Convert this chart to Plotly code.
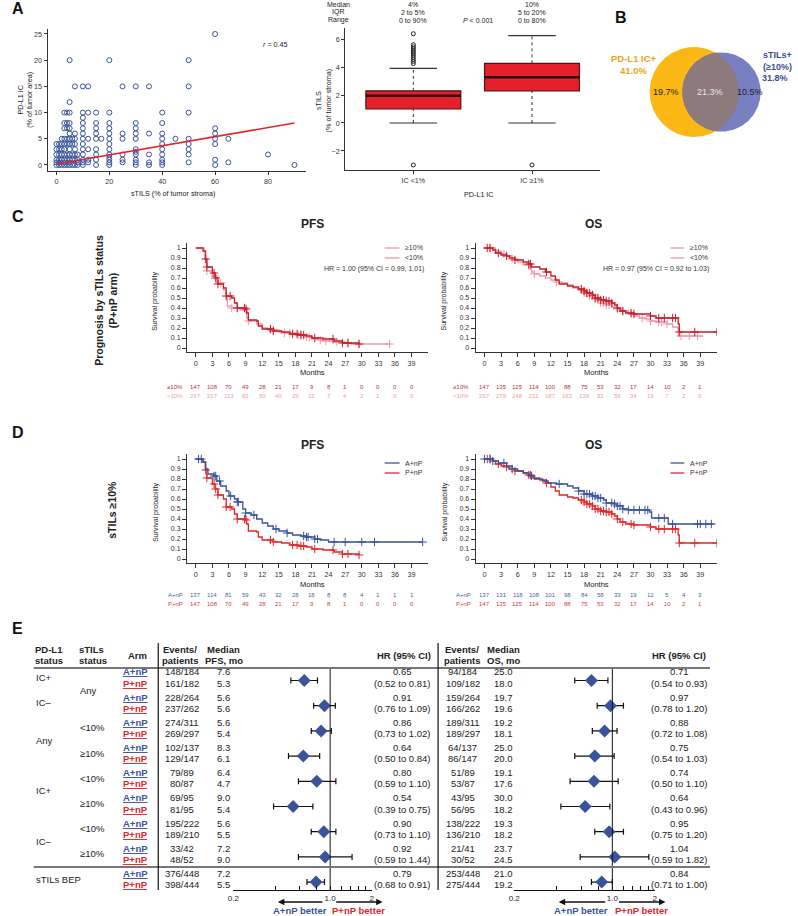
import numpy as np
import plotly.graph_objects as go

W, H = 798, 916
FONT = "Liberation Sans, Arial, Helvetica, sans-serif"

BLUE = "#3a539b"
RED = "#e0262b"
DKRED = "#c81e2b"
PINK = "#ef9aa6"
BOXRED = "#e5202b"
AXC = "#333333"

# ---------------- Panel A (left): sTILs vs PD-L1 IC ----------------
stils_pct = [
    0, 0, 0, 0, 0, 0,
    1, 1, 1, 1, 1, 1,
    2, 2, 2, 2, 2, 2,
    3, 3, 3, 3, 3, 3, 3, 3, 3, 3,
    4, 4, 4, 4, 4, 4, 4, 4,
    5, 5, 5, 5, 5, 5, 5, 5, 5, 5, 5, 5, 5,
    6, 6, 6, 6, 6,
    7, 7, 7, 7, 7, 7, 7, 7,
    8, 8, 8, 8,
    10, 10, 10, 10, 10, 10, 10, 10, 10, 10, 10, 10, 10,
    12, 12, 12, 12, 12, 12,
    15, 15, 15, 15, 15, 15, 15, 15, 15,
    17,
    20, 20, 20, 20, 20, 20, 20, 20, 20, 20, 20, 20, 20,
    25, 25, 25, 25, 25, 25,
    30, 30, 30, 30, 30, 30, 30, 30, 30, 30, 30,
    35, 35, 35, 35, 35,
    40, 40, 40, 40, 40, 40, 40, 40, 40, 40,
    45,
    50, 50, 50, 50, 50, 50, 50, 50,
    60, 60, 60, 60, 60, 60, 60,
    65, 65,
    80,
    90,
]
ic_pct = [
    0, 0.5, 1, 2, 3, 4,
    0, 0.5, 1, 2, 3, 4,
    0, 1, 2, 3, 4, 5,
    0, 0.5, 1, 2, 3, 4, 5, 7, 8, 10,
    0, 1, 2, 4, 5, 7, 8, 10,
    0, 0.5, 1, 2, 3, 4, 5, 6, 7, 8, 10, 12, 20,
    0, 1, 2, 4, 5,
    0, 1, 2, 3, 4, 5, 6, 15,
    0, 0.5, 1, 2,
    0, 0.5, 1, 2, 3, 4, 5, 6, 7, 8, 9, 10, 15,
    0.5, 1, 3, 5, 10, 15,
    0, 1, 2, 3, 5, 6, 7, 8, 10,
    5,
    0, 0.5, 1, 1.5, 2, 3, 4, 5, 6, 7, 8, 10, 20,
    0.5, 1, 2, 5, 6, 15,
    0, 0.5, 1, 2, 2.5, 3, 5, 6, 7, 8, 15,
    0, 0.5, 2, 6, 15,
    0, 0.5, 1, 2, 3, 4, 5, 6, 8, 10,
    5,
    0.5, 2, 3, 4, 5, 10, 15, 20,
    0, 1, 4, 5, 6, 7, 25,
    0.5, 5,
    2,
    0,
]
fit_stils = [0, 90]
fit_ic = [0.2, 8.0]

# ---------------- Panel A (right): box plot ----------------
box_groups = ["IC <1%", "IC ≥1%"]
box_pos = [0, 1]
box_q1 = [1.0, 2.3]
box_med = [1.95, 3.27]
box_q3 = [2.3, 4.26]
box_lo = [0.0, 0.0]
box_hi = [3.9, 6.24]
out_group = [0, 0, 0, 0, 0, 0, 0, 0, 0, 0, 0, 0, 1]
out_val = [4.25, 4.4, 4.55, 4.7, 4.85, 5.0, 5.15, 5.3, 5.45, 5.6, 6.38, -3.0, -3.0]
stat_names = ["Median", "IQR", "Range"]
stat_neg = ["4%", "2 to 5%", "0 to 90%"]
stat_pos = ["10%", "5 to 20%", "0 to 80%"]

# ---------------- Panel B: Venn ----------------
venn_ic, venn_til, venn_both = 41.0, 31.8, 21.3
venn_ic_only, venn_til_only = 19.7, 10.5

# ---------------- Panels C/D: Kaplan-Meier ----------------
risk_months = [0, 3, 6, 9, 12, 15, 18, 21, 24, 27, 30, 33, 36, 39]

# P+nP, sTILs >=10%
km_pfs_hi_t = [0, 1.3, 1.7, 2.0, 3.0, 3.5, 4.0, 5.0, 5.5, 6.5, 7.0, 7.5, 9.0, 9.2, 9.5, 11.0, 11.3,
               12.0, 14.0, 15.5, 17.0, 18.5, 20.0, 21.0, 23.0, 25.0, 26.5, 29.5]
km_pfs_hi_s = [1.0, 0.97, 0.89, 0.81, 0.75, 0.70, 0.64, 0.60, 0.52, 0.50, 0.45, 0.40, 0.39, 0.35, 0.28,
               0.27, 0.22, 0.19, 0.17, 0.16, 0.14, 0.13, 0.12, 0.10, 0.09, 0.07, 0.05, 0.04]
km_pfs_hi_c = [1.8, 2.0, 3.3, 3.6, 4.0, 5.5, 6.2, 7.5, 8.8, 9.1, 13.5, 14.0, 17.5, 18.3, 19.0, 19.5,
               21.5, 24.8, 26.5, 27.5, 29.5]
# P+nP, sTILs <10%
km_pfs_lo_t = [0, 1.5, 1.8, 2.0, 3.0, 3.7, 5.0, 5.5, 5.7, 6.5, 8.0, 9.2, 9.5, 11.0, 12.0, 13.0, 15.0,
               16.0, 18.0, 19.5, 21.0, 22.0, 23.0, 25.0, 27.0, 28.0, 35.0]
km_pfs_lo_s = [1.0, 0.97, 0.88, 0.77, 0.72, 0.65, 0.58, 0.50, 0.42, 0.40, 0.38, 0.30, 0.27, 0.24, 0.20,
               0.18, 0.16, 0.15, 0.13, 0.11, 0.09, 0.08, 0.07, 0.06, 0.05, 0.04, 0.04]
km_pfs_lo_c = [2.0, 3.5, 4.5, 6.5, 7.5, 9.5, 14.0, 16.0, 17.0, 18.5, 19.0, 20.0, 20.5, 22.5, 23.5, 25.5,
               27.5, 29.5, 35.0]
# A+nP, sTILs >=10%
km_pfs_a_t = [0, 1.3, 1.8, 2.2, 3.3, 3.8, 4.5, 5.5, 6.0, 7.0, 7.5, 8.5, 9.0, 10.0, 11.0, 12.0, 13.0,
              14.0, 15.0, 16.5, 17.5, 19.0, 20.0, 21.5, 22.5, 24.0, 41.0]
km_pfs_a_s = [1.0, 0.97, 0.90, 0.85, 0.83, 0.78, 0.73, 0.68, 0.63, 0.60, 0.57, 0.50, 0.46, 0.44, 0.40,
              0.36, 0.33, 0.30, 0.28, 0.26, 0.24, 0.23, 0.22, 0.20, 0.19, 0.17, 0.17]
km_pfs_a_c = [0.5, 1.0, 3.3, 3.6, 4.3, 6.3, 7.5, 7.7, 9.0, 10.5, 14.5, 16.5, 19.5, 20.0, 20.3, 21.5,
              22.0, 25.0, 27.0, 30.0, 32.3, 41.0]

km_os_hi_t = [0, 1.5, 2.0, 3.0, 4.0, 4.5, 5.5, 7.0, 8.0, 8.5, 10.0, 11.0, 12.0, 12.8, 13.5, 15.0, 16.0,
              17.0, 18.0, 18.5, 19.5, 20.0, 21.0, 22.0, 23.0, 23.5, 24.0, 24.5, 25.5, 27.0, 30.0, 31.0,
              35.0, 35.2, 42.0]
km_os_hi_s = [1.0, 0.98, 0.95, 0.93, 0.92, 0.90, 0.88, 0.86, 0.84, 0.81, 0.79, 0.76, 0.72, 0.68, 0.64,
              0.62, 0.61, 0.59, 0.57, 0.55, 0.53, 0.50, 0.48, 0.47, 0.45, 0.43, 0.40, 0.37, 0.35, 0.34,
              0.32, 0.30, 0.24, 0.16, 0.16]
km_os_hi_c = [0.5, 1.0, 2.5, 4.0, 5.5, 8.0, 8.3, 11.2, 17.5, 18.0, 18.5, 19.0, 19.5, 20.0, 20.5, 21.0,
              21.5, 22.0, 22.5, 23.0, 24.0, 25.0, 26.5, 27.0, 30.0, 31.5, 32.5, 34.0, 34.5, 35.2, 38.0, 42.0]
km_os_lo_t = [0, 2, 3, 4, 5, 6, 7, 8, 8.5, 9, 10, 11, 12, 13, 14, 15, 16, 17, 18, 19, 20, 21, 22, 23,
              24, 25, 26, 27, 28, 29, 30, 31, 33, 34, 35, 39.5]
km_os_lo_s = [1.0, 0.97, 0.94, 0.92, 0.89, 0.86, 0.83, 0.79, 0.76, 0.74, 0.72, 0.70, 0.68, 0.66, 0.65,
              0.63, 0.60, 0.58, 0.55, 0.52, 0.49, 0.45, 0.43, 0.41, 0.39, 0.37, 0.34, 0.32, 0.30, 0.29,
              0.27, 0.26, 0.24, 0.21, 0.12, 0.12]
km_os_lo_c = [1.0, 3.5, 5.0, 9.0, 13.0, 17.5, 18.0, 18.5, 19.0, 20.0, 20.5, 21.0, 21.5, 22.0, 22.5,
              24.0, 25.0, 26.5, 28.5, 30.0, 31.5, 32.0, 33.0, 35.5, 37.0, 38.5]
km_os_a_t = [0, 1.5, 2.5, 4.0, 5.0, 6.0, 7.0, 8.0, 9.0, 10.5, 11.5, 13.0, 15.0, 16.0, 17.0, 18.0, 19.5,
             20.5, 21.5, 22.0, 23.5, 24.0, 25.0, 26.0, 29.8, 30.2, 33.2, 41.5]
km_os_a_s = [1.0, 0.98, 0.96, 0.93, 0.90, 0.88, 0.86, 0.83, 0.80, 0.78, 0.76, 0.75, 0.73, 0.71, 0.68,
             0.65, 0.63, 0.61, 0.59, 0.56, 0.55, 0.53, 0.50, 0.49, 0.47, 0.41, 0.35, 0.35]
km_os_a_c = [0.0, 1.0, 1.5, 3.5, 5.0, 8.5, 13.5, 17.0, 18.0, 18.5, 19.0, 19.5, 20.0, 20.5, 21.0, 22.0,
             23.0, 23.5, 24.0, 24.5, 25.0, 26.0, 27.0, 28.0, 29.0, 29.5, 31.5, 32.5, 34.0, 38.5, 39.0,
             40.0, 41.0]

risk_pfs_hi = [147, 108, 70, 49, 28, 21, 17, 9, 8, 1, 0, 0, 0, 0]
risk_pfs_lo = [297, 217, 113, 82, 50, 40, 29, 15, 7, 4, 2, 1, 0, 0]
risk_pfs_a = [137, 114, 81, 59, 43, 32, 28, 18, 8, 8, 4, 1, 1, 1]
risk_os_hi = [147, 135, 125, 114, 100, 88, 75, 53, 32, 17, 14, 10, 2, 1]
risk_os_lo = [297, 279, 248, 211, 187, 163, 139, 91, 56, 34, 19, 7, 2, 0]
risk_os_a = [137, 131, 118, 108, 101, 98, 84, 58, 33, 19, 12, 5, 4, 3]

# ---------------- Panel E: forest ----------------
pdl1_labels = ["IC+", "IC–", "Any", "IC+", "IC–", "sTILs BEP"]
pdl1_rows = [0, 1, 2.5, 4.5, 6.5, 8]
stils_labels = ["Any", "<10%", "≥10%", "<10%", "≥10%", "<10%", "≥10%"]
stils_rows = [0.5, 2, 3, 4, 5, 6, 7]

pfs_events_a = ["148/184", "228/264", "274/311", "102/137", "79/89", "69/95", "195/222", "33/42", "376/448"]
pfs_events_p = ["161/182", "237/262", "269/297", "129/147", "80/87", "81/95", "189/210", "48/52", "398/444"]
pfs_med_a = [7.6, 5.6, 5.6, 8.3, 6.4, 9.0, 5.6, 7.2, 7.2]
pfs_med_p = [5.3, 5.6, 5.4, 6.1, 4.7, 5.4, 5.5, 9.0, 5.5]
pfs_hr = [0.65, 0.91, 0.86, 0.64, 0.80, 0.54, 0.90, 0.92, 0.79]
pfs_ci_lo = [0.52, 0.76, 0.73, 0.50, 0.59, 0.39, 0.73, 0.59, 0.68]
pfs_ci_hi = [0.81, 1.09, 1.02, 0.84, 1.10, 0.75, 1.10, 1.44, 0.91]

os_events_a = ["94/184", "159/264", "189/311", "64/137", "51/89", "43/95", "138/222", "21/41", "253/448"]
os_events_p = ["109/182", "166/262", "189/297", "86/147", "53/87", "56/95", "136/210", "30/52", "275/444"]
os_med_a = [25.0, 19.7, 19.2, 25.0, 19.1, 30.0, 19.3, 23.7, 21.0]
os_med_p = [18.0, 19.6, 18.1, 20.0, 17.6, 18.2, 18.2, 24.5, 19.2]
os_hr = [0.71, 0.97, 0.88, 0.75, 0.74, 0.64, 0.95, 1.04, 0.84]
os_ci_lo = [0.54, 0.78, 0.72, 0.54, 0.50, 0.43, 0.75, 0.59, 0.71]
os_ci_hi = [0.93, 1.20, 1.08, 1.03, 1.10, 0.96, 1.20, 1.82, 1.00]

forest_ticks = [0.2, 0.4, 0.6, 0.8, 1.0, 1.2, 1.4, 1.6, 1.8, 2.0]
forest_ticktext = ["0.2", "", "", "", "1.0", "", "", "", "", "2"]


# ---------------- helpers ----------------
def xd(a, b):
    return [a / W, b / W]


def yd(top, bot):
    return [1 - bot / H, 1 - top / H]


fig = go.Figure()
ann, shp = [], []
axes = {}


def label(x, y, s, size=7.2, color="#222", xanchor="center", angle=0, bold=False):
    if bold:
        s = "<b>" + s + "</b>"
    ann.append(dict(x=x / W, y=1 - y / H, xref="paper", yref="paper", text=s, showarrow=False,
                    font=dict(size=size, color=color), xanchor=xanchor, yanchor="middle",
                    textangle=angle, borderpad=0))


def seg(x0, y0, x1, y1, color, width):
    shp.append(dict(type="line", xref="paper", yref="paper", x0=x0 / W, x1=x1 / W,
                    y0=1 - y0 / H, y1=1 - y1 / H, line=dict(color=color, width=width)))


def axis(dom, rng, anchor, **kw):
    d = dict(domain=dom, range=rng, anchor=anchor, showline=True, linecolor=AXC, linewidth=1,
             ticks="outside", ticklen=3, tickwidth=1, tickcolor=AXC, showgrid=False,
             zeroline=False, tickfont=dict(size=7.2, color="#333"), fixedrange=True)
    d.update(kw)
    return d


# ---------------- Panel A scatter ----------------
axes["xaxis"] = axis(xd(42, 303), [-3.36, 94.2], "y", tickvals=[0, 20, 40, 60, 80])
axes["yaxis"] = axis(yd(29, 171), [-1.15, 25.95], "x", tickvals=[0, 5, 10, 15, 20, 25])
fig.add_trace(go.Scatter(x=stils_pct, y=ic_pct, mode="markers", xaxis="x", yaxis="y",
                         marker=dict(symbol="circle-open", size=5, color=BLUE, line=dict(width=1))))
fig.add_trace(go.Scatter(x=fit_stils, y=fit_ic, mode="lines", xaxis="x", yaxis="y",
                         line=dict(color=RED, width=1.6)))
label(12, 8, "A", size=16, bold=True, color="#111")
label(273, 44, "<i>r</i> = 0.45")
label(169, 193, "sTILS (% of tumor stroma)")
label(19, 100, "PD-L1 IC<br>(% of tumor area)", angle=-90)

# ---------------- Panel A box ----------------
axes["xaxis2"] = axis(xd(343, 601), [-0.575, 1.575], "y2", tickvals=box_pos, ticktext=box_groups)
axes["yaxis2"] = axis(yd(28, 170), [-3.36, 6.79], "x2", tickvals=[-2, 0, 2, 4, 6])
wx, wy, cx, cy, mdx, mdy = [], [], [], [], [], []
for p, lo, q1, md, q3, hi in zip(box_pos, box_lo, box_q1, box_med, box_q3, box_hi):
    wx += [p, p, None, p, p, None]
    wy += [q3, hi, None, lo, q1, None]
    cx += [p - 0.2, p + 0.2, None, p - 0.2, p + 0.2, None]
    cy += [hi, hi, None, lo, lo, None]
    mdx += [p - 0.4, p + 0.4, None]
    mdy += [md, md, None]
fig.add_trace(go.Scatter(x=wx, y=wy, mode="lines", xaxis="x2", yaxis="y2",
                         line=dict(color="#333", width=1, dash="dot")))
fig.add_trace(go.Scatter(x=cx, y=cy, mode="lines", xaxis="x2", yaxis="y2",
                         line=dict(color="#333", width=1.2)))
fig.add_trace(go.Box(x=box_pos, q1=box_q1, median=box_med, q3=box_q3, lowerfence=box_q1,
                     upperfence=box_q3, width=0.8, whiskerwidth=0, fillcolor=BOXRED,
                     line=dict(color="#4d1515", width=1.2), xaxis="x2", yaxis="y2",
                     boxpoints=False, hoverinfo="skip"))
fig.add_trace(go.Scatter(x=mdx, y=mdy, mode="lines", xaxis="x2", yaxis="y2",
                         line=dict(color="#2a0808", width=2.4)))
fig.add_trace(go.Scatter(x=[box_pos[g] for g in out_group], y=out_val, mode="markers",
                         xaxis="x2", yaxis="y2",
                         marker=dict(symbol="circle-open", size=4, color="#222", line=dict(width=1))))
for k, name in enumerate(stat_names):
    yy = 4 + 8 * k
    label(336, yy, name, size=7)
    label(412, yy, stat_neg[k], size=7)
    label(532, yy, stat_pos[k], size=7)
label(477, 20, "<i>P</i> < 0.001", size=7)
label(321, 100, "sTILS<br>(% of tumor stroma)", angle=-90)
label(478, 194, "PD-L1 IC")

# ---------------- Panel B Venn ----------------
axes["xaxis3"] = dict(domain=xd(600, 798), range=[600, 798], visible=False, fixedrange=True)
axes["yaxis3"] = dict(domain=yd(30, 160), range=[160, 30], visible=False, fixedrange=True)


def lens_area(d, r1, r2):
    a1 = np.arccos((d * d + r1 * r1 - r2 * r2) / (2 * d * r1))
    a2 = np.arccos((d * d + r2 * r2 - r1 * r1) / (2 * d * r2))
    tri = (-d + r1 + r2) * (d + r1 - r2) * (d - r1 + r2) * (d + r1 + r2)
    return r1 * r1 * a1 + r2 * r2 * a2 - 0.5 * np.sqrt(tri)


r1 = 45.0
kk = r1 / np.sqrt(venn_ic)
r2 = kk * np.sqrt(venn_til)
target = np.pi * kk * kk * venn_both
lo_d, hi_d = r1 - r2 + 1e-6, r1 + r2 - 1e-6
for _ in range(60):
    mid = 0.5 * (lo_d + hi_d)
    if lens_area(mid, r1, r2) > target:
        lo_d = mid
    else:
        hi_d = mid
dist = 0.5 * (lo_d + hi_d)
c1x, c1y = 696.0, 92.0
c2x, c2y = c1x + dist, c1y
th = np.linspace(0, 2 * np.pi, 361)
p1x, p1y = c1x + r1 * np.cos(th), c1y + r1 * np.sin(th)
p2x, p2y = c2x + r2 * np.cos(th), c2y + r2 * np.sin(th)
in1 = np.hypot(p1x - c2x, p1y - c2y) <= r2
in2 = np.hypot(p2x - c1x, p2y - c1y) <= r1
lx = np.concatenate([p1x[in1], p2x[in2]])
ly = np.concatenate([p1y[in1], p2y[in2]])
mx = 0.5 * ((c1x + r1) + (c2x - r2))
order = np.argsort(np.arctan2(ly - c1y, lx - mx))
lx, ly = lx[order], ly[order]
for xs, ys, col in [(p1x, p1y, "#fbb814"), (p2x, p2y, "#7880c1"), (lx, ly, "#8d7a7d")]:
    fig.add_trace(go.Scatter(x=np.append(xs, xs[0]), y=np.append(ys, ys[0]), mode="lines",
                             fill="toself", fillcolor=col, line=dict(width=0, color=col),
                             xaxis="x3", yaxis="y3", hoverinfo="skip"))
for xx, s, col in [(0.5 * ((c1x - r1) + (c2x - r2)), venn_ic_only, "#222"),
                   (mx, venn_both, "#e8e4e4"),
                   (0.5 * ((c1x + r1) + (c2x + r2)), venn_til_only, "#222")]:
    ann.append(dict(x=xx, y=c1y, xref="x3", yref="y3", text=f"{s:.1f}%", showarrow=False,
                    font=dict(size=9, color=col), xanchor="center", yanchor="middle"))
label(622, 18, "B", size=16, bold=True, color="#111")
label(635, 59, "PD-L1 IC+", size=9.5, color="#f0a023", bold=True)
label(635, 70, f"{venn_ic:.1f}%", size=9.5, color="#f0a023", bold=True)
label(796, 55, "sTILs+", size=9, color="#3b4d94", bold=True, xanchor="right")
label(796, 67, "(≥10%)", size=9, color="#3b4d94", bold=True, xanchor="right")
label(792, 78, f"{venn_til:.1f}%", size=9, color="#3b4d94", bold=True, xanchor="right")

# ---------------- Panels C / D: KM ----------------
km_boxes = {
    "4": (183, 427, 243, 352),
    "5": (475, 719, 243, 352),
    "6": (183, 427, 454, 563),
    "7": (475, 719, 454, 563),
}
for n, (x0, x1, y0, y1) in km_boxes.items():
    axes["xaxis" + n] = axis(xd(x0, x1), [-1.6, 42], "y" + n, tickvals=risk_months, ticklen=4)
    axes["yaxis" + n] = axis(yd(y0, y1), [-0.04, 1.05], "x" + n, tick0=0, dtick=0.1, ticklen=4,
                             tickfont=dict(size=7, color="#333"))
    label((x0 + x1) / 2 + (5 if n in "46" else 0), y1 + 21, "Months", size=7.5)
    label(x0 - 32, (y0 + y1) / 2 + 4, "Survival probability", size=7, angle=-90)


def km(t, s, cens, color, n, width=1.3):
    fig.add_trace(go.Scatter(x=t, y=s, mode="lines", xaxis="x" + n, yaxis="y" + n,
                             line=dict(color=color, width=width, shape="hv"), hoverinfo="skip"))
    idx = np.searchsorted(np.array(t), np.array(cens), side="right") - 1
    fig.add_trace(go.Scatter(x=cens, y=np.array(s)[idx], mode="markers", xaxis="x" + n, yaxis="y" + n,
                             marker=dict(symbol="cross-thin", size=6, color=color,
                                         line=dict(color=color, width=1)), hoverinfo="skip"))


km(km_pfs_lo_t, km_pfs_lo_s, km_pfs_lo_c, PINK, "4")
km(km_pfs_hi_t, km_pfs_hi_s, km_pfs_hi_c, DKRED, "4")
km(km_os_lo_t, km_os_lo_s, km_os_lo_c, PINK, "5")
km(km_os_hi_t, km_os_hi_s, km_os_hi_c, DKRED, "5")
km(km_pfs_hi_t, km_pfs_hi_s, km_pfs_hi_c, RED, "6")
km(km_pfs_a_t, km_pfs_a_s, km_pfs_a_c, BLUE, "6")
km(km_os_hi_t, km_os_hi_s, km_os_hi_c, RED, "7")
km(km_os_a_t, km_os_a_s, km_os_a_c, BLUE, "7")


def risk_row(n, y, lx, name, vals, color):
    label(lx, y, name, size=6, color=color, xanchor="right")
    for m, v in zip(risk_months, vals):
        ann.append(dict(x=m, y=1 - y / H, xref="x" + n, yref="paper", text=str(v), showarrow=False,
                        font=dict(size=6, color=color), xanchor="center", yanchor="middle"))


def legend_item(lx0, lx1, tx, y, name, color):
    seg(lx0, y, lx1, y, color, 1.3)
    label(tx, y, name, size=7, color="#333", xanchor="right")


CRISK_HI, CRISK_LO = "#b8303f", "#eaa0ad"
DRISK_A, DRISK_P = "#4a62a0", "#d83a44"
risk_row("4", 387, 180, "≥10%", risk_pfs_hi, CRISK_HI)
risk_row("4", 396, 180, "<10%", risk_pfs_lo, CRISK_LO)
risk_row("5", 387, 469, "≥10%", risk_os_hi, CRISK_HI)
risk_row("5", 396, 469, "<10%", risk_os_lo, CRISK_LO)
risk_row("6", 595, 180, "A+nP", risk_pfs_a, DRISK_A)
risk_row("6", 604, 180, "P+nP", risk_pfs_hi, DRISK_P)
risk_row("7", 595, 471, "A+nP", risk_os_a, DRISK_A)
risk_row("7", 604, 471, "P+nP", risk_os_hi, DRISK_P)

for lx0, lx1, tx in [(383, 398, 423), (672, 686, 711)]:
    legend_item(lx0, lx1, tx, 248, "≥10%", PINK)
    legend_item(lx0, lx1, tx, 258, "<10%", PINK)
    legend_item(lx0, lx1, tx, 463, "A+nP", BLUE)
    legend_item(lx0, lx1, tx, 473, "P+nP", RED)
label(424, 269, "HR = 1.00 (95% CI = 0.99, 1.01)", size=7, color="#333", xanchor="right")
label(712, 269, "HR = 0.97 (95% CI = 0.92 to 1.03)", size=7, color="#333", xanchor="right")

label(12, 217, "C", size=16, bold=True, color="#111")
label(12, 432, "D", size=16, bold=True, color="#111")
for y in (224, 445):
    label(310, y, "PFS", size=12, bold=True, color="#222")
    label(594, y, "OS", size=12, bold=True, color="#222")
label(101, 300, "Prognosis by sTILs status<br>(P+nP arm)", size=10.5, bold=True, angle=-90)
label(107, 510, "sTILs ≥10%", size=10.5, bold=True, angle=-90)

# ---------------- Panel E: forest ----------------
row0, rstep = 677.5, 25.2
yr = [(890 - row0) / rstep, (668 - row0) / rstep]
for xa, (x0, x1), hr, clo, chi in [("8", (230, 370), pfs_hr, pfs_ci_lo, pfs_ci_hi),
                                   ("9", (514, 656), os_hr, os_ci_lo, os_ci_hi)]:
    axes["xaxis" + xa] = axis(xd(x0, x1), [np.log10(0.2), np.log10(2)], "y" + xa, type="log",
                              tickvals=forest_ticks, ticktext=forest_ticktext, ticks="inside",
                              ticklen=4, linecolor="#111", tickcolor="#111",
                              tickfont=dict(size=8, color="#222"))
    axes["yaxis" + xa] = dict(domain=yd(668, 890), range=yr, visible=False, fixedrange=True)
    hr_a, lo_a, hi_a = np.array(hr), np.array(clo), np.array(chi)
    rows = np.arange(len(hr)) + 0.12
    fig.add_trace(go.Scatter(x=hr_a, y=rows, mode="markers", xaxis="x" + xa, yaxis="y" + xa,
                             marker=dict(symbol="diamond", size=10, color=BLUE),
                             error_x=dict(type="data", symmetric=False, array=hi_a - hr_a,
                                          arrayminus=hr_a - lo_a, color="#111", thickness=1.2,
                                          width=3)))
    shp.append(dict(type="line", xref="x" + xa, yref="y" + xa + " domain", x0=1, x1=1, y0=0, y1=1,
                    line=dict(color="#111", width=1)))


def cell(x, row, s, color="#222", size=9.5, xanchor="center"):
    ann.append(dict(x=x / W, y=row, xref="paper", yref="y8", text=s, showarrow=False,
                    font=dict(size=size, color=color), xanchor=xanchor, yanchor="middle"))


for i in range(len(pfs_hr)):
    ra, rp = i - 0.22, i + 0.22
    cell(131, ra, "<b><u>A+nP</u></b>", color=BLUE)
    cell(131, rp, "<b><u>P+nP</u></b>", color=RED)
    cell(178, ra, pfs_events_a[i])
    cell(178, rp, pfs_events_p[i])
    cell(220, ra, f"{pfs_med_a[i]:.1f}")
    cell(220, rp, f"{pfs_med_p[i]:.1f}")
    cell(401, ra, f"{pfs_hr[i]:.2f}")
    cell(401, rp, f"({pfs_ci_lo[i]:.2f} to {pfs_ci_hi[i]:.2f})")
    cell(462, ra, os_events_a[i])
    cell(462, rp, os_events_p[i])
    cell(503, ra, f"{os_med_a[i]:.1f}")
    cell(503, rp, f"{os_med_p[i]:.1f}")
    cell(681, ra, f"{os_hr[i]:.2f}")
    cell(681, rp, f"({os_ci_lo[i]:.2f} to {os_ci_hi[i]:.2f})")
for s, r in zip(pdl1_labels, pdl1_rows):
    cell(28, r, s, xanchor="left")
for s, r in zip(stils_labels, stils_rows):
    cell(73, r, s, xanchor="left")

label(12, 628, "E", size=16, bold=True, color="#111")
hdr = 9.5
label(28, 649, "PD-L1", size=hdr, bold=True, xanchor="left")
label(28, 660, "status", size=hdr, bold=True, xanchor="left")
label(73, 649, "sTILs", size=hdr, bold=True, xanchor="left")
label(73, 660, "status", size=hdr, bold=True, xanchor="left")
label(133, 655, "Arm", size=hdr, bold=True)
for ex, mx_, hx, ep in [(176, 220, 403, "PFS, mo"), (461, 503, 681, "OS, mo")]:
    label(ex, 649, "Events/", size=hdr, bold=True)
    label(ex, 660, "patients", size=hdr, bold=True)
    label(mx_, 649, "Median", size=hdr, bold=True)
    label(mx_, 660, ep, size=hdr, bold=True)
    label(hx, 655, "HR (95% CI)", size=hdr, bold=True)
seg(28, 668, 712, 668, "#777", 2)
seg(28, 867, 712, 867, "#777", 2)
seg(154, 643, 154, 890, "#111", 1.2)
seg(437, 643, 437, 890, "#111", 1.2)

for head, tail, txt, col, tx in [(275, 321, "A+nP better", BLUE, 297), (381, 333, "P+nP better", RED, 357),
                                 (559, 607, "A+nP better", BLUE, 582), (667, 619, "P+nP better", RED, 643)]:
    ann.append(dict(x=head / W, y=1 - 902 / H, xref="paper", yref="paper", ax=tail - head, ay=0,
                    axref="pixel", ayref="pixel", text="", showarrow=True, arrowhead=2,
                    arrowsize=1, arrowwidth=1.3, arrowcolor="#111", standoff=0, startstandoff=0))
    label(tx, 910, txt, size=9.5, color=col, bold=True)

fig.update_traces(showlegend=False)
fig.update_layout(width=W, height=H, margin=dict(l=0, r=0, t=0, b=0), paper_bgcolor="white",
                  plot_bgcolor="white", showlegend=False, font=dict(family=FONT, color="#222"),
                  annotations=ann, shapes=shp, **axes)
fig.write_html("out.html", config={"displayModeBar": False},
               post_script="document.body.style.margin='0';")
